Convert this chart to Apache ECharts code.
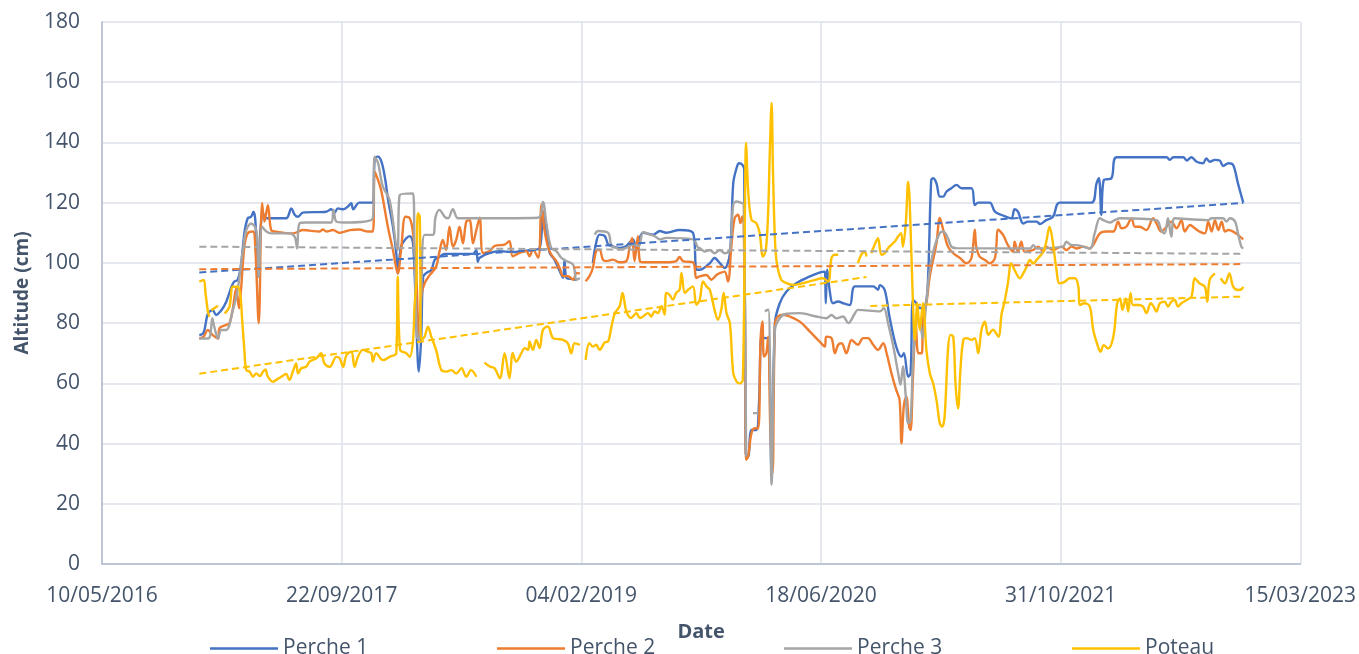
<!DOCTYPE html>
<html>
<head>
<meta charset="utf-8">
<script src="https://cdn.jsdelivr.net/npm/echarts@6/dist/echarts.min.js"></script>
<style>
html,body{margin:0;padding:0;background:#fff;}
#c{width:1359px;height:654px;}
</style>
</head>
<body>
<div id="c"></div>
<script>
// Dates are Excel serial day numbers (42500 = 10/05/2016)
const seriesNames = ['Perche 1', 'Perche 2', 'Perche 3', 'Poteau'];
const xTicks = [42500, 43000, 43500, 44000, 44500, 45000];
const yTicks = [0, 20, 40, 60, 80, 100, 120, 140, 160, 180];

const p1Days = [42703,42712,42721,42731,42738,42749,42759,42770,42776,42783,42790,42797,42804,42811,42816,42820,42825,42831,42836,42841,42884,42895,42902,42909,42919,42968,42978,42985,42992,43003,43013,43020,43024,43037,43065,43069,43076,43083,43090,43097,43107,43114,43117,43124,43135,43142,43149,43156,43161,43166,43170,43177,43187,43194,43204,43215,43274,43281,43284,43288,43309,43330,43357,43392,43413,43420,43427,43434,43444,43455,43462,43465,43469,43479,43490,43505,43524,43531,43538,43549,43556,43563,43580,43594,43608,43615,43622,43629,43650,43664,43677,43705,43733,43740,43747,43768,43778,43789,43799,43810,43817,43824,43829,43836,43840,43843,43848,43855,43865,43871,43876,43883,43890,43897,43904,43914,43928,43949,43977,43997,44008,44010,44013,44018,44025,44036,44046,44060,44071,44109,44119,44123,44133,44143,44157,44168,44173,44182,44187,44192,44199,44206,44217,44223,44230,44234,44241,44248,44255,44262,44272,44283,44293,44314,44321,44328,44352,44363,44377,44397,44404,44411,44422,44432,44450,44457,44470,44484,44498,44564,44575,44580,44585,44590,44606,44617,44721,44728,44735,44756,44763,44773,44784,44797,44804,44811,44822,44832,44839,44850,44860,44870,44881];
const p1Alt = [76.0,76.8,83.2,84.3,82.7,84.3,87.0,92.0,93.8,94.3,99.3,109.8,114.8,115.3,117.0,114.0,95.4,112.0,116.5,114.8,114.8,118.1,116.0,115.3,116.7,117.0,117.8,116.7,118.1,117.8,118.7,119.8,117.8,120.0,120.0,134.7,135.3,133.6,128.6,120.9,112.0,103.2,96.5,105.4,108.2,108.9,106.5,78.8,63.9,75.5,95.4,96.7,97.6,101.0,102.0,103.0,103.0,104.3,100.4,101.7,103.3,103.9,103.6,104.2,105.0,117.2,111.1,103.3,101.1,97.2,95.0,101.1,95.0,94.7,94.4,null,100.0,106.7,109.4,108.9,106.1,105.6,105.0,105.6,107.8,104.4,108.3,110.0,109.4,110.6,110.0,110.9,110.0,97.8,97.7,99.9,101.6,99.9,98.3,103.2,126.5,131.5,133.1,132.6,130.9,36.8,35.7,44.5,44.5,54.5,75.5,75.0,75.0,30.1,80.0,86.6,90.5,93.3,95.5,96.8,97.1,86.6,97.7,91.1,86.6,87.2,86.6,86.0,92.2,92.2,91.1,92.6,91.0,82.1,72.2,68.8,70.0,62.2,63.3,87.7,86.6,85.0,85.5,93.2,127.5,128.1,126.4,122.0,122.0,123.7,124.8,125.9,124.8,124.8,119.2,120.0,120.0,117.0,115.9,114.8,117.8,117.0,113.1,113.7,113.7,112.9,114.2,115.3,120.0,120.0,126.4,128.1,115.9,127.5,128.1,135.1,135.1,134.2,135.1,135.1,134.0,135.1,133.6,133.1,134.7,133.6,134.2,134.0,132.2,133.1,132.5,126.4,120.0];

const p2Days = [42703,42712,42721,42731,42742,42745,42759,42766,42773,42780,42786,42790,42797,42804,42815,42820,42827,42834,42839,42846,42853,42863,42898,42919,42954,42961,42968,42982,42996,43017,43037,43055,43065,43069,43076,43083,43097,43107,43117,43124,43133,43142,43149,43156,43161,43166,43173,43184,43197,43204,43211,43218,43225,43232,43239,43246,43253,43260,43267,43274,43281,43288,43295,43309,43319,43340,43350,43357,43371,43385,43392,43399,43410,43417,43423,43430,43437,43448,43455,43462,43472,43483,43490,43497,43503,43509,43517,43524,43531,43538,43545,43552,43566,43580,43594,43601,43606,43611,43618,43622,43629,43677,43698,43705,43712,43733,43740,43747,43761,43771,43782,43789,43799,43806,43813,43820,43827,43832,43836,43841,43844,43848,43855,43862,43869,43874,43878,43881,43886,43890,43894,43899,43904,43910,43921,43935,43956,43977,43997,44008,44011,44022,44029,44036,44043,44053,44064,44077,44088,44098,44109,44119,44130,44137,44147,44157,44164,44168,44173,44178,44184,44187,44192,44198,44203,44210,44213,44220,44227,44234,44241,44248,44255,44265,44276,44290,44304,44314,44321,44324,44331,44342,44352,44363,44370,44380,44390,44401,44404,44411,44418,44425,44443,44453,44464,44470,44484,44502,44512,44523,44533,44547,44561,44568,44582,44596,44610,44620,44627,44637,44648,44655,44665,44679,44693,44700,44710,44721,44731,44742,44752,44759,44770,44780,44790,44801,44808,44815,44822,44829,44836,44843,44850,44860,44870,44881];
const p2Alt = [74.9,75.5,77.7,76.0,74.9,78.3,79.4,80.0,84.9,91.5,84.9,91.0,105.4,109.8,110.4,104.3,80.0,119.8,113.7,119.2,110.9,110.4,109.8,110.9,110.4,111.1,110.4,110.9,110.0,110.9,111.1,110.4,110.4,130.3,127.5,123.7,111.5,104.3,96.5,104.3,115.3,114.8,109.8,95.4,74.4,88.8,93.2,96.0,98.7,103.7,107.6,104.3,112.0,105.4,107.6,112.0,106.5,113.7,114.2,106.5,110.9,115.0,103.3,103.9,105.6,106.1,107.2,102.2,103.3,103.9,102.2,104.4,101.7,119.4,111.1,105.6,102.8,100.6,98.3,95.6,95.6,94.4,96.7,96.4,null,93.9,95.6,98.3,103.9,104.4,101.1,100.6,101.1,100.2,100.6,105.6,108.3,100.6,108.9,100.6,100.2,100.2,100.6,102.0,100.6,100.2,95.0,95.5,96.0,94.4,96.0,96.6,97.1,93.8,105.4,114.9,116.0,113.2,115.4,91.0,34.6,35.7,43.4,45.1,45.1,74.4,80.5,68.9,70.0,75.5,46.7,30.1,80.0,82.2,82.8,82.2,80.5,77.2,73.9,72.2,75.5,75.0,70.0,72.8,73.3,70.0,74.4,72.8,75.0,75.0,72.8,71.1,73.3,70.0,63.4,57.8,54.5,40.1,52.8,55.6,45.6,44.5,62.3,80.0,70.0,70.0,81.1,86.6,95.5,101.0,106.5,114.9,111.0,105.4,103.2,101.6,99.9,101.6,111.0,105.4,102.1,101.0,99.9,101.6,111.0,109.3,105.9,103.7,107.0,103.7,107.0,103.7,104.3,105.4,103.7,105.4,104.3,105.4,104.3,105.4,104.8,105.4,104.8,105.9,109.8,110.4,110.4,113.7,111.5,112.0,114.8,112.0,112.0,110.9,114.8,113.1,110.4,112.0,113.7,111.5,114.2,110.4,112.6,111.5,110.4,109.8,113.7,110.4,114.2,110.9,113.7,110.4,110.9,110.4,109.3,107.8];

const p3Days = [42703,42721,42726,42730,42735,42742,42749,42759,42773,42783,42794,42801,42811,42822,42827,42834,42843,42853,42891,42902,42907,42912,42926,42978,42983,42989,43003,43065,43069,43076,43086,43100,43114,43117,43121,43149,43152,43157,43161,43166,43173,43190,43196,43204,43215,43222,43232,43243,43288,43410,43420,43427,43437,43448,43458,43469,43483,43490,43497,43510,43528,43535,43556,43563,43573,43580,43594,43608,43620,43629,43643,43653,43664,43677,43733,43744,43747,43757,43768,43778,43789,43799,43810,43817,43824,43836,43839,43844,43851,43858,43869,43876,43883,43890,43897,43904,43914,43928,43956,43990,44011,44022,44032,44046,44057,44071,44077,44123,44131,44140,44151,44161,44166,44171,44177,44182,44187,44192,44199,44205,44212,44219,44227,44237,44248,44255,44265,44272,44283,44436,44443,44450,44505,44512,44523,44533,44561,44571,44582,44589,44603,44613,44624,44700,44710,44717,44724,44731,44738,44808,44815,44839,44846,44853,44864,44870,44877,44881];
const p3Alt = [74.9,74.9,76.0,81.6,78.3,74.9,77.7,77.7,84.3,91.0,104.3,110.9,113.1,110.9,95.4,112.0,110.4,109.8,109.8,108.7,104.8,113.1,113.4,113.4,117.6,113.7,113.4,114.8,135.3,133.1,125.3,120.9,105.4,104.3,122.5,123.1,104.3,75.5,74.4,88.8,109.3,109.3,115.3,117.6,115.3,114.8,117.8,114.8,114.8,115.0,120.2,113.3,105.0,103.9,101.7,100.6,99.4,94.4,95.0,null,109.4,110.6,110.0,105.6,105.0,104.4,105.0,106.1,105.6,110.2,109.4,108.9,107.8,108.3,107.8,105.0,104.9,103.8,104.3,103.2,104.3,103.2,104.3,119.3,120.4,119.8,119.3,35.7,null,50.1,50.1,null,83.9,84.5,26.3,77.8,81.6,83.1,83.3,82.2,81.6,82.7,81.6,82.2,80.0,83.3,84.4,83.9,85.0,80.0,72.2,63.4,59.5,65.6,55.6,46.7,47.9,66.7,80.0,81.1,75.0,85.6,97.7,105.4,109.9,110.4,108.2,105.4,104.9,104.8,105.9,104.8,105.4,107.0,105.9,105.9,104.8,109.8,114.8,114.2,113.4,114.2,114.8,114.2,110.9,109.8,114.8,108.7,114.8,114.2,114.8,114.8,113.7,114.8,113.7,109.8,105.4,104.8];

const poteauDays = [42703,42712,42716,42721,42724,42726,42728,42742,42749,42756,42766,42773,42783,42789,42792,42797,42801,42808,42815,42822,42829,42836,42841,42846,42857,42863,42874,42884,42891,42898,42905,42909,42916,42926,42933,42947,42957,42964,42975,42989,42996,43003,43010,43020,43027,43034,43044,43055,43062,43065,43072,43086,43100,43114,43117,43122,43135,43142,43149,43152,43156,43159,43163,43166,43173,43180,43187,43197,43208,43218,43229,43239,43250,43260,43270,43281,43290,43298,43309,43319,43330,43340,43350,43357,43364,43375,43382,43389,43392,43399,43406,43413,43420,43430,43441,43451,43462,43472,43479,43486,43497,43503,43509,43517,43524,43531,43538,43549,43556,43563,43570,43580,43586,43594,43604,43615,43622,43629,43639,43646,43653,43660,43667,43674,43677,43684,43691,43698,43705,43709,43716,43723,43733,43740,43747,43754,43761,43768,43778,43785,43792,43797,43803,43810,43817,43824,43830,43837,43844,43848,43855,43865,43872,43879,43885,43890,43893,43897,43900,43904,43908,43917,43928,43942,43963,43984,44004,44015,44022,44029,44036,44056,44077,44084,44091,44095,44100,44105,44112,44119,44126,44133,44140,44147,44154,44161,44167,44171,44177,44182,44185,44191,44196,44201,44206,44213,44220,44227,44234,44241,44248,44253,44258,44265,44270,44276,44281,44286,44291,44297,44304,44314,44321,44328,44335,44342,44349,44359,44370,44377,44383,44390,44397,44404,44415,44422,44429,44436,44443,44450,44464,44470,44477,44483,44491,44498,44509,44519,44530,44537,44540,44550,44561,44568,44578,44583,44590,44599,44610,44618,44624,44629,44636,44641,44646,44651,44662,44672,44679,44688,44694,44700,44707,44717,44724,44731,44738,44745,44752,44763,44773,44780,44790,44801,44806,44811,44822,44828,44834,44843,44852,44860,44870,44877,44881];
const poteauAlt = [93.8,94.3,89.9,83.8,82.1,null,84.3,85.8,null,83.2,85.5,92.1,92.1,88.8,82.1,71.1,64.4,63.9,62.2,63.3,62.4,63.9,64.6,62.2,60.5,61.1,62.2,63.1,61.1,63.9,66.6,63.3,65.0,65.5,67.2,68.3,70.0,66.6,65.5,68.8,68.3,65.5,69.4,70.5,65.5,68.8,71.1,70.5,70.0,67.2,70.0,67.7,68.8,70.0,95.4,71.1,70.0,68.8,74.4,85.5,93.8,116.5,115.4,74.4,75.5,78.8,75.5,71.1,64.4,63.9,64.4,63.3,65.0,62.2,64.4,62.2,null,66.9,65.6,65.0,61.7,70.0,61.7,70.0,67.2,70.0,71.7,71.1,73.9,71.1,74.4,71.7,77.8,78.9,75.0,74.7,74.4,73.3,70.0,73.3,72.8,null,67.8,73.3,72.2,72.8,71.1,73.6,73.9,78.9,83.3,85.6,90.0,83.9,81.7,83.3,81.7,82.2,83.3,82.2,83.9,83.3,85.6,82.8,90.0,89.4,87.8,90.0,91.1,96.7,90.0,91.1,92.2,86.1,87.7,93.8,92.2,91.1,84.4,81.1,84.4,90.0,83.3,80.0,63.4,60.6,60.0,61.1,139.8,124.3,114.3,113.2,109.9,102.1,104.3,117.6,135.3,153.1,129.8,107.7,99.9,94.4,93.3,92.7,93.3,94.2,94.9,93.8,101.6,102.7,102.7,null,99.9,102.7,103.8,102.1,null,103.2,106.0,108.2,102.7,103.2,104.9,106.0,107.1,108.8,109.9,105.4,113.2,127.0,120.9,91.1,74.4,86.6,77.8,86.6,71.1,63.4,60.0,54.5,46.7,45.6,49.0,71.1,76.1,75.5,59.0,51.7,64.5,74.4,75.0,74.4,75.0,70.0,77.8,80.5,76.1,77.8,75.5,83.2,87.1,93.2,99.8,97.6,94.9,96.5,98.7,101.0,99.8,101.0,103.7,107.0,112.0,107.6,98.2,93.2,93.8,94.9,94.9,92.1,86.0,86.6,85.5,77.7,72.2,70.5,72.7,71.6,75.5,86.6,88.2,84.4,88.2,83.8,89.9,86.0,86.0,85.5,83.3,86.6,85.5,83.8,86.6,87.1,85.5,87.1,87.7,85.5,86.6,87.7,88.8,94.9,93.2,92.1,87.1,94.3,96.5,null,94.9,93.2,96.5,92.1,91.0,91.2,92.1];

// Linear trendlines (end points)
const trendP1Days = [42703, 44881], trendP1Alt = [96.8, 119.9];
const trendP2Days = [42703, 44881], trendP2Alt = [97.9, 99.6];
const trendP3Days = [42703, 44881], trendP3Alt = [105.4, 103.0];
const trendPot1Days = [42703, 44095], trendPot1Alt = [63.2, 95.3];
const trendPot2Days = [44103, 44881], trendPot2Alt = [85.7, 88.8];

const colors = ['#4472C4', '#ED7D31', '#A5A5A5', '#FFC000'];
const txt = '#44546A';
const FONT = '"Open Sans", "Noto Sans", sans-serif';

function zip(d, v) { return d.map((x, i) => [x, v[i] === null ? '-' : v[i]]); }
function fmtDate(serial) {
  const dt = new Date(Date.UTC(1899, 11, 30) + serial * 86400000);
  const dd = String(dt.getUTCDate()).padStart(2, '0');
  const mm = String(dt.getUTCMonth() + 1).padStart(2, '0');
  return dd + '/' + mm + '/' + dt.getUTCFullYear();
}

const main = [[p1Days, p1Alt], [p2Days, p2Alt], [p3Days, p3Alt], [poteauDays, poteauAlt]];
const series = main.map((s, i) => ({
  name: seriesNames[i], type: 'line', data: zip(s[0], s[1]),
  symbol: 'none', smooth: 0.35, connectNulls: false,
  lineStyle: { color: colors[i], width: 2.4 }, itemStyle: { color: colors[i] },
  z: 2 + i, animation: false
}));
const trends = [
  [trendP1Days, trendP1Alt, 0], [trendP2Days, trendP2Alt, 1], [trendP3Days, trendP3Alt, 2],
  [trendPot1Days, trendPot1Alt, 3], [trendPot2Days, trendPot2Alt, 3]
];
trends.forEach(t => series.push({
  type: 'line', data: zip(t[0], t[1]), symbol: 'none', silent: true,
  lineStyle: { color: colors[t[2]], width: 2, type: [7, 4] }, z: 10, animation: false
}));

const legendLeft = [205, 492, 779, 1067];
const legends = seriesNames.map((n, i) => ({
  data: [n], left: legendLeft[i], top: 633, icon: 'rect', itemWidth: 68, itemHeight: 2.4,
  textStyle: { color: txt, fontSize: 21, fontFamily: FONT }
}));

const chart = echarts.init(document.getElementById('c'), null, { renderer: 'canvas' });
chart.setOption({
  backgroundColor: '#fff',
  animation: false,
  textStyle: { fontFamily: FONT },
  grid: { left: 102, right: 58, top: 22, bottom: 90, containLabel: false },
  legend: legends,
  xAxis: {
    type: 'value', min: xTicks[0], max: xTicks[xTicks.length - 1], interval: xTicks[1] - xTicks[0],
    name: 'Date', nameLocation: 'middle', nameGap: 58,
    nameTextStyle: { color: txt, fontSize: 20, fontWeight: 'bold', fontFamily: FONT },
    axisLine: { show: true, lineStyle: { color: '#AFBACB', width: 1.5 } },
    axisTick: { show: false },
    axisLabel: { color: txt, fontSize: 21, margin: 22, fontFamily: FONT, formatter: v => fmtDate(v), showMinLabel: true, showMaxLabel: true },
    splitLine: { show: true, lineStyle: { color: '#DDE2EA', width: 1.5 } }
  },
  yAxis: {
    type: 'value', min: yTicks[0], max: yTicks[yTicks.length - 1], interval: yTicks[1] - yTicks[0],
    name: 'Altitude (cm)', nameLocation: 'middle', nameGap: 70, nameRotate: 90,
    nameTextStyle: { color: txt, fontSize: 19, fontWeight: 'bold', fontFamily: FONT },
    axisLine: { show: true, lineStyle: { color: '#AFBACB', width: 1.5 } },
    axisTick: { show: false },
    axisLabel: { color: txt, fontSize: 21, margin: 22, fontFamily: FONT },
    splitLine: { show: true, lineStyle: { color: '#DDE2EA', width: 1.5 } }
  },
  series: series
});
</script>
</body>
</html>
